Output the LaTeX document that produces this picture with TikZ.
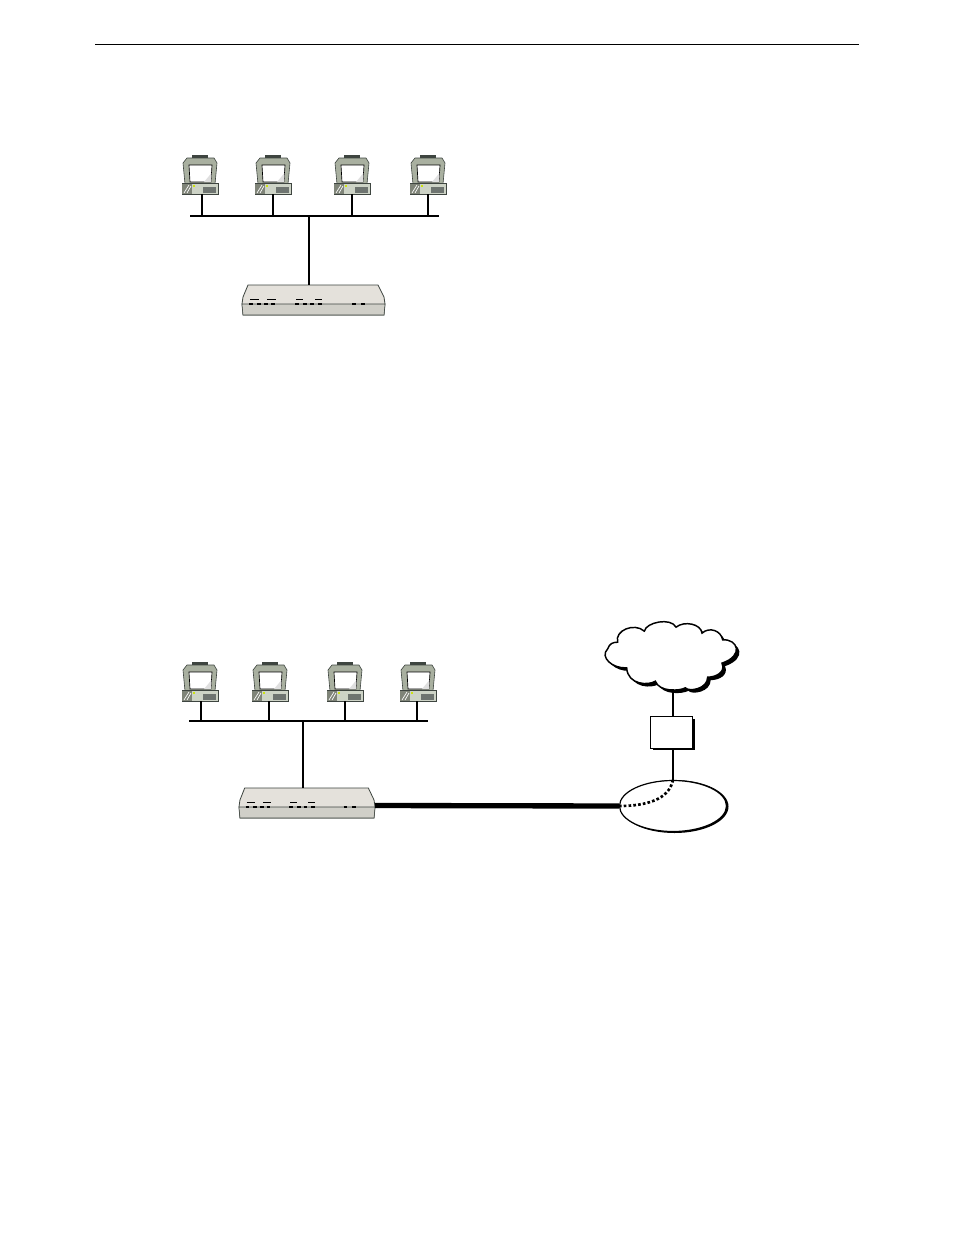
\documentclass[tikz,border=0pt]{standalone}
\usetikzlibrary{shapes.geometric}
\definecolor{casegreen}{HTML}{A9B0A0}
\definecolor{casedark}{HTML}{3E4540}
\definecolor{basegreen}{HTML}{CDD3C6}
\definecolor{routertop}{HTML}{E4E1DB}
\definecolor{routerbot}{HTML}{D0CFC8}
\tikzset{
  x=0.75pt,y=-0.75pt,
  wire/.style={line width=1.3pt,black},
  stem/.style={line width=1.0pt,black},
  outl/.style={draw=casedark,line width=0.45pt},
  led/.style={line width=1pt,black},
  computer/.pic={
    \fill[casedark] (-8,0) rectangle (8,3);
    \filldraw[outl,fill=casegreen] (-13,3) -- (14,3) -- (17,8) -- (15,29) -- (-15,29) -- (-17,8) -- cycle;
    \filldraw[draw=black,line width=0.5pt,fill=white] (-11,10) -- (12,10) -- (11,27) -- (-10,27) -- cycle;
    \fill[gray!25] (4,27) -- (11.5,18) -- (11,27) -- cycle;
    \filldraw[outl,fill=basegreen] (-18,28) -- (18,28) -- (18,39) -- (-18,39) -- cycle;
    \fill[casegreen!75!black] (-18,28.5) -- (-8,28.5) -- (-8,39) -- (-18,39) -- cycle;
    \draw[white,line width=0.5pt] (-16,38) -- (-11,30) (-13,38) -- (-9,31);
    \fill[casedark!75] (3,32) rectangle (16,38);
    \fill[yellow!80!green] (-7,30) rectangle (-5,32);
  },
  routerbox/.pic={
    \filldraw[draw=casedark,line width=0.6pt,fill=routertop] (6,0) -- (136,0) -- (142,12) -- (143,19) -- (142,30) -- (1,30) -- (0,19) -- (1,12) -- cycle;
    \filldraw[draw=casedark,line width=0.4pt,fill=routerbot] (0,19) -- (143,19) -- (142,30) -- (1,30) -- cycle;
    \foreach \a/\b in {8/17,25/34,54/61,73/80}{\draw[line width=0.6pt,black] (\a,14.3) -- (\b,14.3);}
    \foreach \a in {7,15,22,29,53,61,68,76,110,119}{\draw[led] (\a,19) -- ++(4,0);}
  }
}
\newcommand{\cloudpath}{(65,95)
 .. controls (55,60) and (115,35) .. (145,62)
 .. controls (150,35) and (225,20) .. (240,50)
 .. controls (265,30) and (315,40) .. (318,68)
 .. controls (340,48) and (375,60) .. (380,88)
 .. controls (425,85) and (445,135) .. (378,158)
 .. controls (390,185) and (360,200) .. (335,200)
 .. controls (335,235) and (280,245) .. (268,232)
 .. controls (250,242) and (190,245) .. (178,212)
 .. controls (160,225) and (95,225) .. (92,172)
 .. controls (50,175) and (10,140) .. (35,115)
 .. controls (40,100) and (50,95) .. (65,95) -- cycle}
\begin{document}
\begin{tikzpicture}
\useasboundingbox (0,0) rectangle (954,1235);
\fill[white] (0,0) rectangle (954,1235);
% header rule
\coordinate (hl) at (95,44); \coordinate (hr) at (859,44);
\draw[line width=0.6pt] (hl) -- (hr);

% top network
\foreach \n/\cx/\st in {a/200/202,b/273/273,c/352/352,d/428/428}{
  \pic at (\cx,155) {computer};
  \coordinate (\n) at (\st,194);
}
\coordinate (bl1) at (190,216); \coordinate (br1) at (439,216);
\draw[wire] (bl1) -- (br1);
\draw[wire] (a) -- (a |- bl1);
\draw[stem] (b) -- (b |- bl1);
\draw[stem] (c) -- (c |- bl1);
\draw[stem] (d) -- (d |- bl1);
\pic at (242,285) {routerbox};
\coordinate (r1) at (309,285);
\draw[stem] (r1 |- bl1) -- (r1);

% bottom network
\foreach \n/\cx/\st in {e/200/201,f/270/269,g/345/345,h/418/417}{
  \pic at (\cx,662) {computer};
  \coordinate (\n) at (\st,701);
}
\coordinate (bl2) at (189,721); \coordinate (br2) at (428,721);
\draw[wire] (bl2) -- (br2);
\foreach \n in {e,f,g,h}{\draw[stem] (\n) -- (\n |- bl2);}
\pic[xscale=0.951] at (239,788) {routerbox};
\coordinate (r2) at (303,788);
\coordinate (r2e) at (375,805.5);
\draw[stem] (r2 |- bl2) -- (r2);

% cloud, box, ellipse
\begin{scope}[shift={(596,610.5)},x=0.25pt,y=-0.25pt]
  \fill[black,shift={(9,9)}] \cloudpath;
  \filldraw[draw=black,line width=1.1pt,fill=white] \cloudpath;
\end{scope}
\coordinate (cb) at (673,689);
\fill[black] (653,719) rectangle (695,750);
\node[draw,fill=white,line width=0.6pt,minimum width=42.5*0.75pt,minimum height=32*0.75pt,inner sep=0pt] (box) at (671.5,732) {};
\coordinate (boxx) at (673,732);
\node[ellipse,fill=black,minimum width=108*0.75pt,minimum height=53*0.75pt,inner sep=0pt] at (674.5,806.5) {};
\node[draw,ellipse,line width=0.9pt,fill=white,minimum width=107*0.75pt,minimum height=51*0.75pt,inner sep=0pt] (ell) at (673,806) {};
\draw[stem] (cb) -- (boxx |- box.north);
\draw[stem] (boxx |- box.south) -- (boxx |- ell.north);
\draw[line width=4pt,black] (r2e) -- (ell.west);
\draw[line width=2pt,dash pattern=on 2pt off 1.6pt] (boxx |- ell.north) .. controls (670,795) and (655,806) .. (ell.west);
\end{tikzpicture}
\end{document}
